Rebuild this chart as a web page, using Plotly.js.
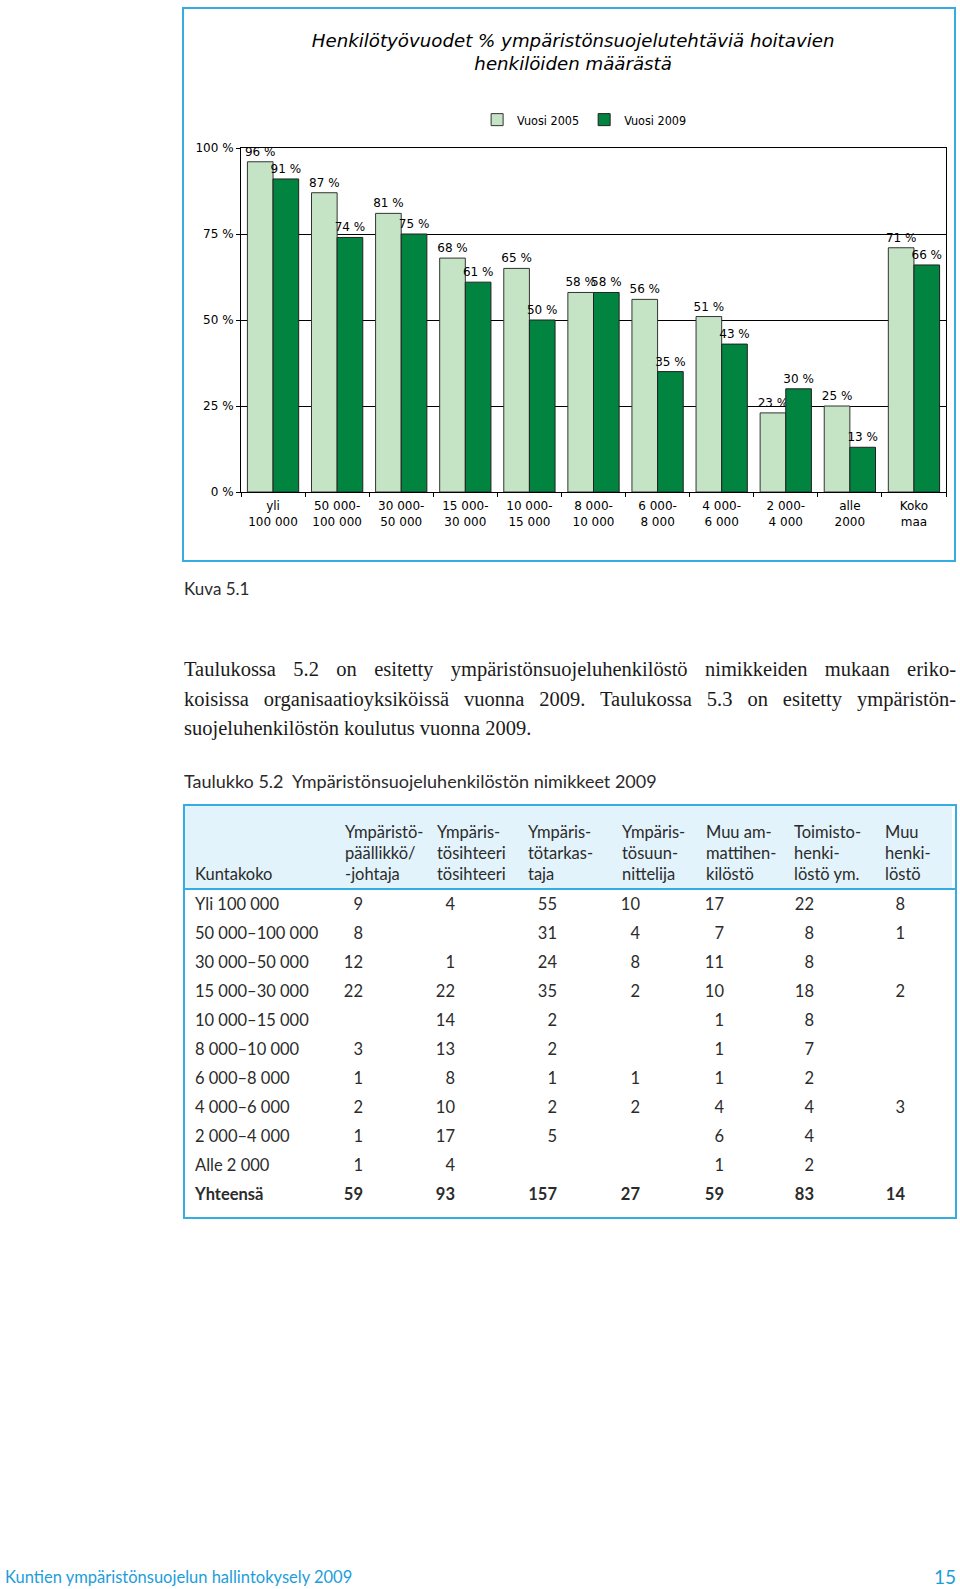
<!DOCTYPE html>
<html>
<head>
<meta charset="utf-8">
<script src="https://cdn.plot.ly/plotly-3.0.1.min.js"></script>
<style>
  html, body { margin:0; padding:0; background:#fff; }
  body { width:960px; height:1589px; position:relative; overflow:hidden; }
  .abs { position:absolute; white-space:nowrap; }
  .sans { font-family: Lato, "Open Sans", sans-serif; color:#2b2b2b; }
  .serif { font-family: "Liberation Serif", "DejaVu Serif", serif; color:#1a1a1a; }
</style>
</head>
<body>
<script>
// ---------- chart data ----------
const categories = ["yli<br>100 000","50 000-<br>100 000","30 000-<br>50 000","15 000-<br>30 000","10 000-<br>15 000","8 000-<br>10 000","6 000-<br>8 000","4 000-<br>6 000","2 000-<br>4 000","alle<br>2000","Koko<br>maa"];
const vuosi2005 = [96, 87, 81, 68, 65, 58, 56, 51, 23, 25, 71];
const vuosi2009 = [91, 74, 75, 61, 50, 58, 35, 43, 30, 13, 66];
const seriesNames = ["Vuosi 2005", "Vuosi 2009"];
const yTickVals = [0, 25, 50, 75, 100];
const yTickText = ["0 %", "25 %", "50 %", "75 %", "100 %"];
const chartTitle = "Henkilötyövuodet % ympäristönsuojelutehtäviä hoitavien<br>henkilöiden määrästä";

// ---------- table data ----------
const tableHeaders = ["Ympäristö-<br>päällikkö/<br>-johtaja","Ympäris-<br>tösihteeri<br>tösihteeri","Ympäris-<br>tötarkas-<br>taja","Ympäris-<br>tösuun-<br>nittelija","Muu am-<br>mattihen-<br>kilöstö","Toimisto-<br>henki-<br>löstö ym.","Muu<br>henki-<br>löstö"];
const rowLabels = ["Yli 100 000","50 000–100 000","30 000–50 000","15 000–30 000","10 000–15 000","8 000–10 000","6 000–8 000","4 000–6 000","2 000–4 000","Alle 2 000","Yhteensä"];
const colPaallikko   = [9, 8, 12, 22, null, 3, 1, 2, 1, 1, 59];
const colSihteeri    = [4, null, 1, 22, 14, 13, 8, 10, 17, 4, 93];
const colTarkastaja  = [55, 31, 24, 35, 2, 2, 1, 2, 5, null, 157];
const colSuunnittelija = [10, 4, 8, 2, null, null, 1, 2, null, null, 27];
const colMuuAmmatti  = [17, 7, 11, 10, 1, 1, 1, 4, 6, 1, 59];
const colToimisto    = [22, 8, 8, 18, 8, 7, 2, 4, 4, 2, 83];
const colMuu         = [8, 1, null, 2, null, null, null, 3, null, null, 14];
</script>

<div id="chart" class="abs" style="left:0;top:0;width:960px;height:570px;"></div>
<div class="abs" style="left:182px;top:7px;width:770px;height:551px;border:2.5px solid #35ade2;pointer-events:none;"></div>

<div class="abs sans" style="left:184px;top:578px;font-size:17px;">Kuva 5.1</div>

<div class="abs serif" style="left:184px;top:655px;width:772px;font-size:20.5px;line-height:29.5px;">
  <div style="text-align:justify;text-align-last:justify;">Taulukossa 5.2 on esitetty ympäristönsuojeluhenkilöstö nimikkeiden mukaan eriko-</div>
  <div style="text-align:justify;text-align-last:justify;">koisissa organisaatioyksiköissä vuonna 2009. Taulukossa 5.3 on esitetty ympäristön-</div>
  <div>suojeluhenkilöstön koulutus vuonna 2009.</div>
</div>

<div class="abs sans" style="left:184px;top:770px;font-size:18px;">Taulukko 5.2&nbsp; Ympäristönsuojeluhenkilöstön nimikkeet 2009</div>

<div id="tbl" class="abs" style="left:0;top:0;width:960px;height:1589px;"></div>

<div class="abs sans" style="left:5px;top:1567px;font-size:16.5px;color:#1c9dd9;">Kuntien ympäristönsuojelun hallintokysely 2009</div>
<div class="abs sans" style="right:4px;top:1565px;font-size:19px;color:#1c9dd9;">15</div>

<script>
// ---------- chart ----------
const fontChart = "DejaVu Sans, Verdana, sans-serif";
const traces = [
  {type:"bar", name:seriesNames[0], x:categories, y:vuosi2005,
   text:vuosi2005.map(v => v + " %"), textposition:"outside", cliponaxis:false, constraintext:"none", textangle:0,
   textfont:{family:fontChart, size:12, color:"#000"},
   marker:{color:"#c5e4c5", line:{color:"#333", width:1}}},
  {type:"bar", name:seriesNames[1], x:categories, y:vuosi2009,
   text:vuosi2009.map(v => v + " %"), textposition:"outside", cliponaxis:false, constraintext:"none", textangle:0,
   textfont:{family:fontChart, size:12, color:"#000"},
   marker:{color:"#00843f", line:{color:"#222", width:1}}}
];
const layout = {
  width:960, height:570,
  margin:{l:241, r:14, t:148, b:78, pad:0},
  paper_bgcolor:"rgba(0,0,0,0)", plot_bgcolor:"#fff",
  font:{family:fontChart, size:12, color:"#000"},
  title:{text:chartTitle, font:{family:fontChart, size:18.2, color:"#000", style:"italic"},
         xref:"container", x:0.597, xanchor:"center", yref:"container", y:1-46.5/570, yanchor:"top"},
  barmode:"group", bargap:0.2, bargroupgap:0,
  showlegend:true,
  legend:{orientation:"h", xref:"container", yref:"container", x:0.497, y:1-105/570, xanchor:"left", yanchor:"top",
          font:{family:"DejaVu Sans Condensed, DejaVu Sans, sans-serif", size:12.5, color:"#000"}, itemwidth:30, traceorder:"normal", bgcolor:"rgba(0,0,0,0)"},
  xaxis:{type:"category", showline:true, linecolor:"#000", linewidth:1, mirror:true,
         ticks:"outside", tickson:"boundaries", ticklen:4, tickcolor:"#000", ticklabelstandoff:3,
         tickfont:{family:fontChart, size:12, color:"#000"}, showgrid:false},
  yaxis:{range:[0,100], tickvals:yTickVals, ticktext:yTickText, showline:true, linecolor:"#000", linewidth:1, mirror:true,
         ticks:"outside", ticklen:4, tickcolor:"#000", showgrid:true, gridcolor:"#000", gridwidth:1,
         zeroline:false, tickfont:{family:fontChart, size:12, color:"#000"}}
};
Plotly.newPlot("chart", traces, layout, {displayModeBar:false, staticPlot:true});

// ---------- table ----------
const tbl = document.getElementById("tbl");
function add(html, style) {
  const d = document.createElement("div");
  d.className = "abs sans";
  d.innerHTML = html;
  d.setAttribute("style", style);
  tbl.appendChild(d);
}
add("", "left:184px;top:805px;width:768px;height:84px;background:#e2f3fb;");
add("", "left:184px;top:888px;width:772px;height:2px;background:#35ade2;");
add("", "left:183px;top:804px;width:770px;height:411px;border:2px solid #35ade2;");
const headerLefts = [345, 437, 528, 622, 706, 794, 885];
const numRights = [363, 455, 557, 640, 724, 814, 905];
const fs = "font-size:16.5px;line-height:21px;";
add("Kuntakoko", "left:195px;top:864px;" + fs);
tableHeaders.forEach((h, j) => add(h, "left:" + headerLefts[j] + "px;top:822px;" + fs));
const cols = [colPaallikko, colSihteeri, colTarkastaja, colSuunnittelija, colMuuAmmatti, colToimisto, colMuu];
rowLabels.forEach((lab, i) => {
  const top = 904 + i * 29 - 10.5;
  const bold = (i === rowLabels.length - 1) ? "font-weight:700;" : "";
  add(lab, "left:195px;top:" + top + "px;" + fs + bold);
  cols.forEach((c, j) => {
    if (c[i] !== null) add(String(c[i]), "left:" + (numRights[j] - 60) + "px;width:60px;text-align:right;top:" + top + "px;" + fs + bold);
  });
});
</script>
</body>
</html>
